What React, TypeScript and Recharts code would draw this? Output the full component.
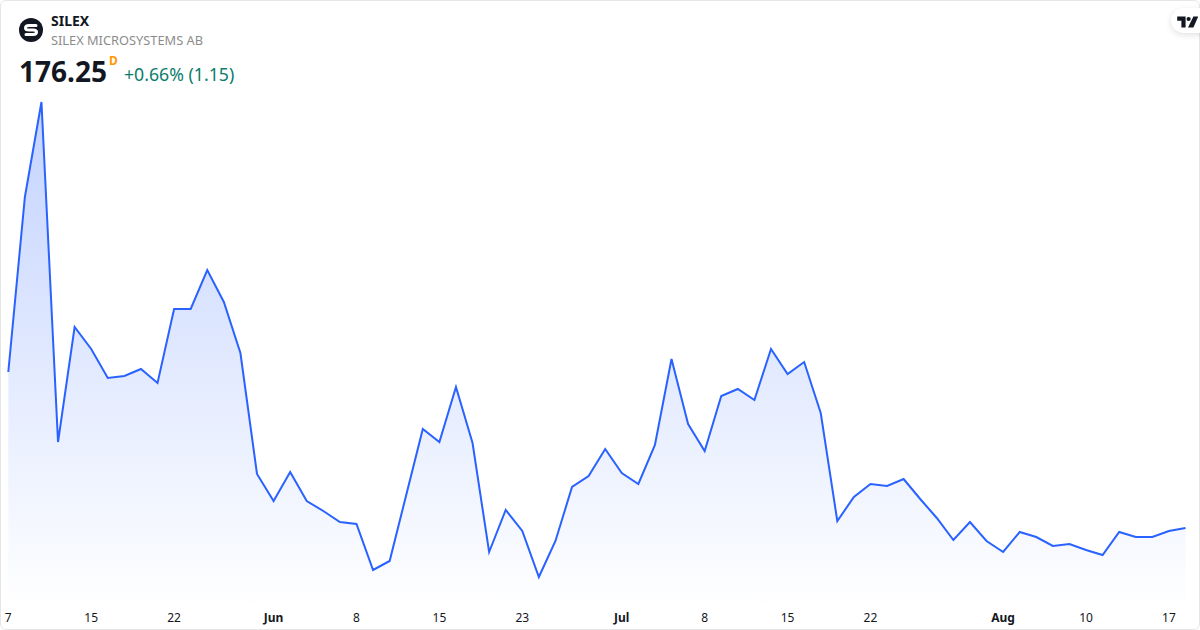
import React from "react";
import { AreaChart, Area, XAxis, YAxis } from "recharts";

const dates = [
  "05-07","05-08","05-11","05-12","05-13","05-15","05-18","05-19","05-20","05-21","05-22",
  "05-25","05-26","05-27","05-28","05-29","06-01","06-02","06-03","06-04","06-05","06-08",
  "06-09","06-10","06-11","06-12","06-15","06-16","06-17","06-18","06-22","06-23","06-24",
  "06-25","06-26","06-29","06-30","07-01","07-02","07-03","07-06","07-07","07-08","07-09",
  "07-10","07-13","07-14","07-15","07-16","07-17","07-20","07-21","07-22","07-23","07-24",
  "07-27","07-28","07-29","07-30","07-31","08-03","08-04","08-05","08-06","08-07","08-10",
  "08-11","08-12","08-13","08-14","08-17","08-18",
];
const closes = [
  235.53,302.03,338.13,208.93,252.63,244.27,233.25,234.01,236.67,231.35,259.47,
  259.47,274.29,262.13,242.75,196.77,186.51,197.53,186.51,182.71,178.53,177.77,
  160.29,163.71,188.79,213.87,208.93,229.83,208.55,167.13,183.09,175.11,157.63,
  171.31,191.83,196.01,206.27,197.15,192.97,207.79,240.47,215.77,205.51,226.41,
  229.07,224.89,244.27,234.77,239.33,219.95,178.91,188.03,192.97,192.21,194.87,
  187.27,180.05,171.69,178.53,171.31,167.13,174.73,172.83,169.41,170.17,167.89,
  165.99,174.73,172.83,172.83,175.11,176.25,
];
const tickDates = ["05-07","05-15","05-22","06-01","06-08","06-15","06-23","07-01","07-08","07-15","07-22","08-03","08-10","08-17"];
const tickLabels = ["7","15","22","Jun","8","15","23","Jul","8","15","22","Aug","10","17"];
const monthLabels = ["Jun","Jul","Aug"];
const yDomain = [145.09, 338.7];

const data = dates.map((date, i) => ({ date, close: closes[i] }));
const FONT = '"Noto Sans", "Open Sans", sans-serif';

function DateTick(props: any) {
  const label = tickLabels[tickDates.indexOf(props.payload.value)];
  const bold = monthLabels.includes(label);
  return (
    <text x={props.x} y={622} textAnchor="middle" fontFamily={FONT} fontSize={12}
      fontWeight={bold ? 700 : 400} fill="#131722">{label}</text>
  );
}

export default function App() {
  return (
    <div style={{ position: "absolute", left: 0, top: 0, width: 1200, height: 630, background: "#fff", overflow: "hidden", fontFamily: FONT }}>
      <AreaChart width={1200} height={630} data={data} margin={{ top: 100.5, right: 14.5, bottom: 0, left: 8.3 }}>
        <defs>
          <linearGradient id="fillBlue" x1="0" y1="0" x2="0" y2="1">
            <stop offset="0%" stopColor="#2962FF" stopOpacity={0.28} />
            <stop offset="100%" stopColor="#2962FF" stopOpacity={0} />
          </linearGradient>
        </defs>
        <XAxis dataKey="date" ticks={tickDates} interval={0} height={20} axisLine={false} tickLine={false} tick={DateTick} />
        <YAxis hide domain={yDomain} />
        <Area type="linear" dataKey="close" stroke="#2962FF" strokeWidth={2} fill="url(#fillBlue)" fillOpacity={1} isAnimationActive={false} dot={false} activeDot={false} />
      </AreaChart>

      <div style={{ position: "absolute", inset: 0, border: "1px solid #e6e6e6", borderRadius: 6, boxSizing: "border-box", pointerEvents: "none" }} />

      <svg width={26} height={26} style={{ position: "absolute", left: 18, top: 18 }}>
        <circle cx={13} cy={12} r={12} fill="#131722" />
        <path d="M18 7.5 H11 Q7.5 7.5 7.5 10 Q7.5 12 11 12 H15 Q18.5 12 18.5 14 Q18.5 16.5 15 16.5 H8" fill="none" stroke="#fff" strokeWidth={3} strokeLinecap="round" />
      </svg>
      <div style={{ position: "absolute", left: 51, top: 12, fontSize: 14, fontWeight: 700, lineHeight: "18px", color: "#131722" }}>SILEX</div>
      <div style={{ position: "absolute", left: 51, top: 31, fontSize: 12.8, lineHeight: "18px", color: "#8c8c8c" }}>SILEX MICROSYSTEMS AB</div>
      <div style={{ position: "absolute", left: 19, top: 52, fontSize: 28, fontWeight: 700, lineHeight: "38px", color: "#131722" }}>176.25</div>
      <div style={{ position: "absolute", left: 109, top: 53, fontSize: 12, fontWeight: 700, lineHeight: "16px", color: "#ff9800" }}>D</div>
      <div style={{ position: "absolute", left: 124, top: 62, fontSize: 17.7, lineHeight: "25px", color: "#0a7d6c" }}>+0.66% (1.15)</div>

      <div style={{ position: "absolute", left: 1171, top: 8, width: 40, height: 25, background: "#fff", borderRadius: 13, boxShadow: "0 2px 6px rgba(0,0,0,0.12)" }} />
      <svg width={22} height={12} viewBox="0 0 36 20" style={{ position: "absolute", left: 1177, top: 16 }}>
        <path d="M0 1 H14 V19 H7 V8 H0 Z" fill="#131722" />
        <circle cx={19} cy={5} r={3.5} fill="#131722" />
        <path d="M27 1 H35 L27 19 H18 Z" fill="#131722" />
      </svg>
    </div>
  );
}
